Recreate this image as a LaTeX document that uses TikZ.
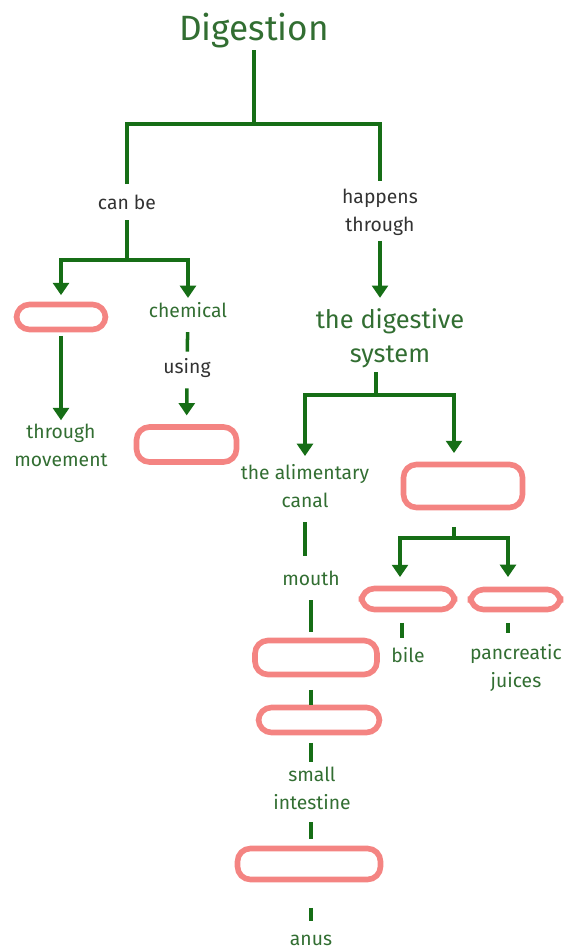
\documentclass[tikz,border=0pt]{standalone}
\usepackage{fontspec}
\setmainfont{Fira Sans}
\usetikzlibrary{positioning}
\usetikzlibrary{arrows.meta}

\definecolor{linegreen}{RGB}{22,110,22}
\definecolor{textgreen}{RGB}{50,110,50}
\definecolor{wordgray}{RGB}{50,50,50}
\definecolor{blankpink}{RGB}{244,132,130}

\begin{document}
\begin{tikzpicture}[x=0.02cm, y=-0.02cm]
  \useasboundingbox (0,0) rectangle (578,950);

  \tikzset{node common/.style={align=center, inner sep=1pt, font=\fontsize{11}{16}\selectfont}}
  \tikzset{concept node/.style={node common, text=textgreen}}
  \tikzset{word node/.style={node common, text=wordgray}}
  \tikzset{big node/.style={concept node, font=\fontsize{14.5}{19.5}\selectfont}}
  \tikzset{title node/.style={concept node, font=\fontsize{20}{24}\selectfont}}
  \tikzset{blank box/.style={draw=blankpink, line width=3.2pt, rounded corners=0.26cm, inner sep=0pt}}
  \tikzset{link/.style={draw=linegreen, line width=2pt}}
  \tikzset{arrow/.style={link, -{Triangle[width=9pt, length=7pt]}}}

  % top of the map
  \node[title node] (dig) at (254,30.5) {Digestion};
  \node[word node] (canbe) at (127,202.5) {can be};
  \node[word node] (happens) at (380,212) {happens\\through};
  \coordinate (top fork) at (254,124);

  % left branch
  \node[blank box, minimum width=1.78cm, minimum height=0.5cm] (mech) at (61,317) {};
  \node[concept node] (chem) at (188,310) {chemical};
  \node[word node] (using) at (187,368.5) {using};
  \node[blank box, minimum width=2cm, minimum height=0.7cm] (enz box) at (186.5,444.5) {};
  \node[concept node] (move) at (61,445) {through\\movement};
  \coordinate (canbe fork) at (127,260);

  % right branch
  \node[big node] (sys) at (390,338) {the digestive\\system};
  \coordinate (sys fork) at (376,395);
  \node[concept node] (canal) at (305,486) {the alimentary\\canal};
  \node[blank box, minimum width=2.38cm, minimum height=0.86cm] (organ box) at (463,486) {};
  \coordinate (organ fork) at (454,538);
  \node[blank box, minimum width=1.86cm, minimum height=0.42cm] (liver box) at (408,599) {};
  \node[blank box, minimum width=1.8cm, minimum height=0.4cm] (pancreas box) at (515.5,599.5) {};
  \node[concept node] (bile) at (408,655) {bile};
  \node[concept node] (juices) at (516,668) {pancreatic\\juices};

  % alimentary canal
  \node[concept node] (mouth) at (311,578.5) {mouth};
  \node[blank box, minimum width=2.44cm, minimum height=0.68cm] (gullet box) at (316,657.5) {};
  \node[blank box, minimum width=2.42cm, minimum height=0.5cm] (stomach box) at (319,720) {};
  \node[concept node] (small) at (312,788.5) {small\\intestine};
  \node[blank box, minimum width=2.86cm, minimum height=0.62cm] (colon box) at (309,864) {};
  \node[concept node] (anus) at (311,940) {anus};

  % connectors
  \draw[link] (dig) -- (top fork);
  \draw[link, shorten <=5pt, shorten >=3pt] (canbe) |- (top fork) -| (happens);
  \draw[link, shorten <=4.7pt] (canbe) -- (canbe fork);
  \draw[arrow, shorten >=3.7pt] (canbe fork) -| (mech.north);
  \draw[arrow, shorten >=1.3pt] (canbe fork) -| (chem.north);
  \draw[link, shorten <=7pt, shorten >=3pt] (chem) -- (using);
  \draw[arrow, shorten <=4.7pt, shorten >=5pt] (using) -- (enz box);
  \draw[arrow, shorten <=2pt, shorten >=0.7pt] (mech) -- (move);

  \draw[arrow, shorten <=2pt, shorten >=4.7pt] (happens) -- (happens |- sys.north);
  \draw[link, shorten <=1.3pt] (sys fork |- sys.south) -- (sys fork);
  \draw[arrow, shorten >=3.5pt] (sys fork) -| (canal.north);
  \draw[arrow, shorten >=4.9pt] (sys fork) -| (organ box.north -| organ fork);
  \draw[link, shorten <=9.4pt] (organ fork |- organ box.south) -- (organ fork);
  \draw[arrow, shorten >=4.9pt] (organ fork) -| ([xshift=-0.16cm]liver box.north);
  \draw[arrow, shorten >=5.5pt] (organ fork) -| ([xshift=-0.15cm]pancreas box.north);
  \draw[link, shorten <=6pt, shorten >=4pt] ([xshift=-0.12cm]liver box.south) -- ([xshift=-0.12cm]liver box.south |- bile.north);
  \draw[link, shorten <=6pt, shorten >=5.2pt] ([xshift=-0.15cm]pancreas box.south) -- ([xshift=-0.15cm]pancreas box.south |- juices.north);

  \draw[link, shorten <=7pt, shorten >=7.5pt] (canal.south) -- (canal.south |- mouth.north);
  \draw[link, shorten <=7pt, shorten >=3.2pt] (mouth.south) -- (mouth.south |- gullet box.north);
  \draw[link, shorten <=7.2pt] (mouth.south |- gullet box.south) -- (mouth.south |- stomach box.north);
  \draw[link, shorten <=4.3pt, shorten >=1.8pt] (anus.north |- stomach box.south) -- (anus.north |- small.north);
  \draw[link, shorten <=5.8pt, shorten >=3.7pt] (anus.north |- small.south) -- (anus.north |- colon box.north);
  \draw[link, shorten <=14.5pt, shorten >=6.4pt] (anus.north |- colon box.south) -- (anus.north);
\end{tikzpicture}
\end{document}
